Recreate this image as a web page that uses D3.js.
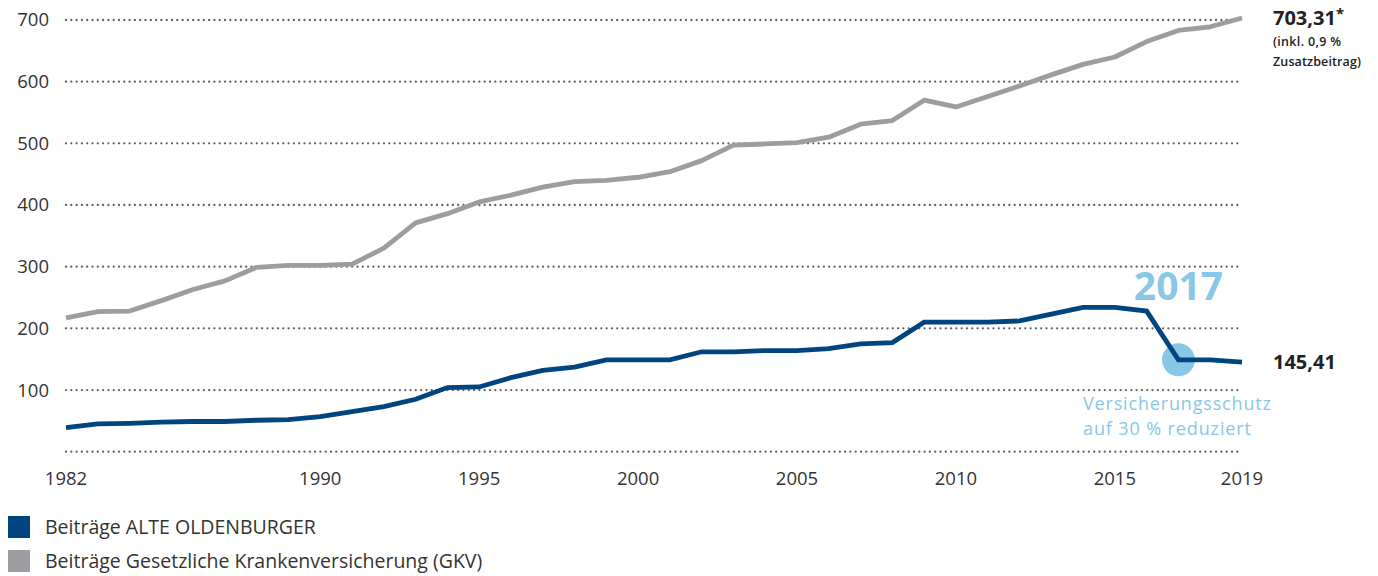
<!DOCTYPE html>
<html><head><meta charset="utf-8">
<script src="https://cdn.jsdelivr.net/npm/d3@7"></script>
<style>body{margin:0;background:#fff}svg{display:block}text{font-family:"Open Sans",sans-serif}</style>
</head><body><svg id="c" width="1378" height="576"></svg>
<script>
const years = d3.range(1982, 2020);
const gkv = [217,227,228,245,263,277,299,302,302,304,330,371,386,405,416,429,438,440,445,454,472,497,499,501,510,531,537,570,559,576,593,611,628,640,665,683,689,703.31];
const alte = [39,45,46,48,49,49,51,52,57,65,73,85,104,105,120,132,137,149,149,149,162,162,164,164,167,175,177,210,210,210,212,223,234,234,228,149,149,145.41];
const yTicks = [0,100,200,300,400,500,600,700];
const xTickYears = [1982,1990,1995,2000,2005,2010,2015,2019];
const legendLabels = ["Beiträge ALTE OLDENBURGER","Beiträge Gesetzliche Krankenversicherung (GKV)"];
const noteLines = ["Versicherungsschutz","auf 30 % reduziert"];
const colors = {alte:"#00457f", gkv:"#9d9ca1", accent:"#89c7e7", text:"#333"};

const svg = d3.select("#c");
const x = d3.scaleLinear().domain([1982,2019]).range([66,1242]);
const y = d3.scaleLinear().domain([0,700]).range([451.7,20]);

// grid
svg.append("g").selectAll("line").data(yTicks).join("line")
  .attr("x1",66).attr("x2",1242).attr("y1",d=>y(d)).attr("y2",d=>y(d))
  .attr("stroke","#5f5f5f").attr("stroke-width",2.3).attr("stroke-linecap","round")
  .attr("stroke-dasharray","0,5.3");

// y labels
svg.append("g").selectAll("text").data(yTicks.filter(d=>d>0)).join("text")
  .attr("x",49).attr("y",d=>y(d)).attr("dy","0.35em").attr("text-anchor","end")
  .attr("font-size",18.5).attr("fill",colors.text).text(d=>d);

// x labels
svg.append("g").selectAll("text").data(xTickYears).join("text")
  .attr("x",d=>x(d)).attr("y",479).attr("dy","0.35em").attr("text-anchor","middle")
  .attr("font-size",18.5).attr("fill",colors.text).text(d=>d);

const line = d3.line().x((d,i)=>x(years[i])).y(d=>y(d));
svg.append("path").datum(gkv).attr("d",line).attr("fill","none")
  .attr("stroke",colors.gkv).attr("stroke-width",4.8).attr("stroke-linejoin","round");

// 2017 marker
const i17 = years.indexOf(2017);
svg.append("circle").attr("cx",x(2017)).attr("cy",y(alte[i17])).attr("r",16.5).attr("fill",colors.accent);

svg.append("path").datum(alte).attr("d",line).attr("fill","none")
  .attr("stroke",colors.alte).attr("stroke-width",4.8).attr("stroke-linejoin","miter");

svg.append("text").attr("x",x(2017)).attr("y",300).attr("text-anchor","middle")
  .attr("font-size",39).attr("font-weight",700).attr("fill",colors.accent).text("2017");
const noteLen = [188,168];
svg.append("g").selectAll("text").data(noteLines).join("text")
  .attr("x",1083).attr("y",(d,i)=>410+i*24.6).attr("font-size",18)
  .attr("font-weight",500).attr("fill",colors.accent)
  .attr("textLength",(d,i)=>noteLen[i]).attr("lengthAdjust","spacing").text(d=>d);

// end labels
const endG = svg.append("text").attr("x",1273).attr("y",y(gkv[gkv.length-1])+7)
  .attr("font-size",20).attr("font-weight",700).attr("fill","#222");
endG.append("tspan").text("703,31");
endG.append("tspan").attr("dy",-6).attr("font-size",15).text("*");
svg.append("text").attr("x",1273).attr("y",46).attr("font-size",12.5).attr("font-weight",600).attr("fill","#222").attr("textLength",68).text("(inkl. 0,9 %");
svg.append("text").attr("x",1273).attr("y",66).attr("font-size",12.5).attr("font-weight",600).attr("fill","#222").attr("textLength",88).text("Zusatzbeitrag)");
svg.append("text").attr("x",1273).attr("y",y(alte[alte.length-1])).attr("dy","0.35em")
  .attr("font-size",20).attr("font-weight",700).attr("fill","#222").text("145,41");

// legend
const lg = svg.append("g").selectAll("g").data(legendLabels).join("g")
  .attr("transform",(d,i)=>`translate(0,${516+i*34})`);
lg.append("rect").attr("x",8).attr("y",0).attr("width",22).attr("height",22)
  .attr("fill",(d,i)=>i===0?colors.alte:colors.gkv);
lg.append("text").attr("x",45).attr("y",11).attr("dy","0.35em").attr("font-size",19.5)
  .attr("fill",colors.text).text(d=>d);
</script></body></html>
